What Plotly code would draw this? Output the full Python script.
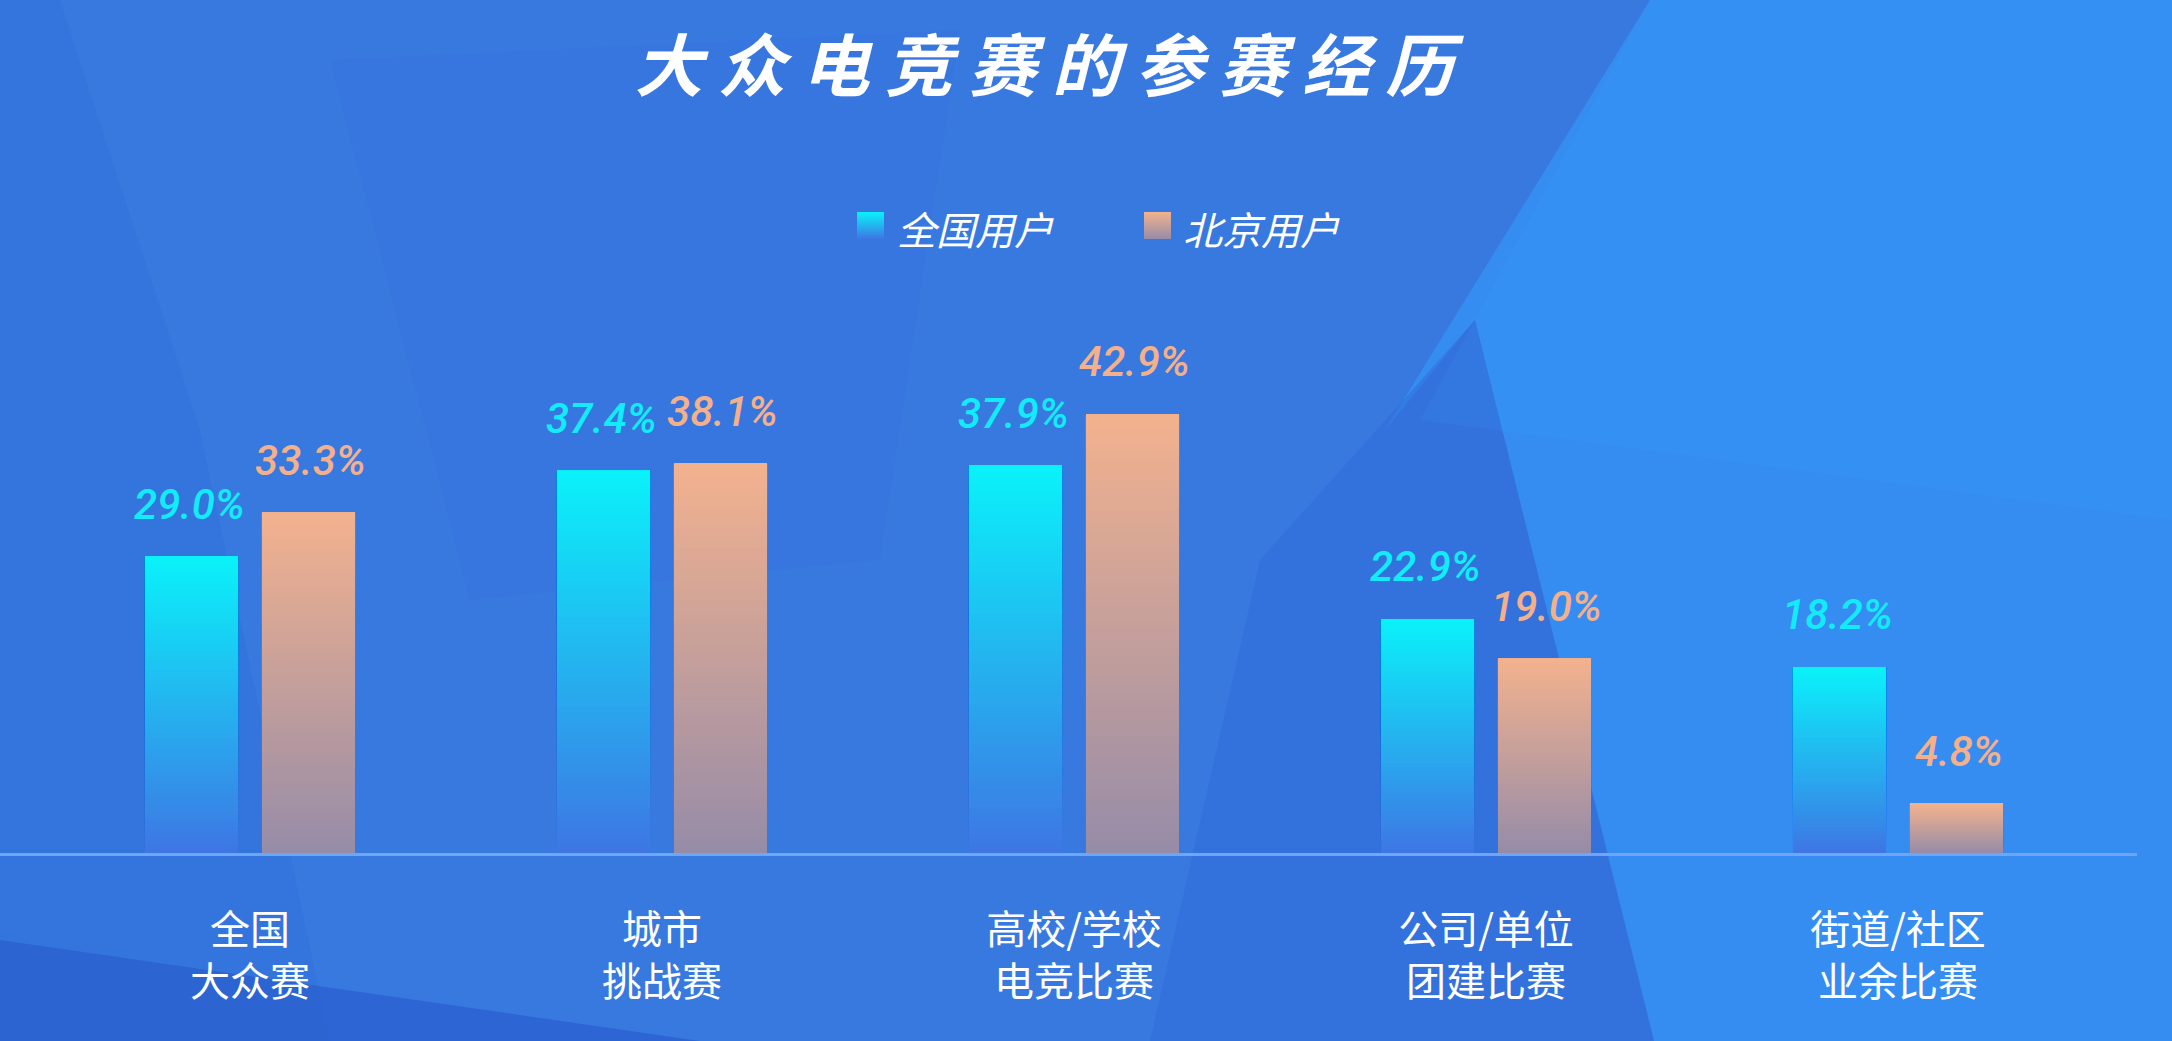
import plotly.graph_objects as go

# ---------------- data ----------------
categories = ["全国大众赛", "城市挑战赛", "高校/学校电竞比赛", "公司/单位团建比赛", "街道/社区业余比赛"]
tick_labels = ["全国<br>大众赛", "城市<br>挑战赛", "高校/学校<br>电竞比赛", "公司/单位<br>团建比赛", "街道/社区<br>业余比赛"]
series_names = ["全国用户", "北京用户"]
national_values = [29.0, 37.4, 37.9, 22.9, 18.2]
beijing_values = [33.3, 38.1, 42.9, 19.0, 4.8]
title_text = "大众电竞赛的参赛经历"

# ---------------- style ----------------
W, H = 2172, 1041
ML, MR, MT, MB = 0, 35, 300, 188
PLOT_W = W - ML - MR
PLOT_H = H - MT - MB
Y_MAX = 54.1
BARGAP, GROUPGAP = 0.432, 0.205

CYAN_TOP, CYAN_BOT = (10, 242, 250), (62, 118, 228)
ORNG_TOP, ORNG_BOT = (243, 178, 142), (150, 140, 168)
LABEL_CYAN = "#12ecfa"
LABEL_ORNG = "#f4b08a"
N_SEG = 60


def mix(c1, c2, t):
    return "rgb(%d,%d,%d)" % tuple(round(a + (b - a) * t) for a, b in zip(c1, c2))


def px(xp, yp):
    """figure pixel position -> paper coordinates (for decorations)"""
    return (xp - ML) / PLOT_W, (H - MB - yp) / PLOT_H


fig = go.Figure()

series = [
    (series_names[0], national_values, CYAN_TOP, CYAN_BOT, "a"),
    (series_names[1], beijing_values, ORNG_TOP, ORNG_BOT, "b"),
]

# gradient bars: each value drawn as overlapping slices (base -> value)
for name, vals, top, bot, grp in series:
    for i in range(N_SEG):
        t = (i + 0.5) / N_SEG
        fig.add_trace(go.Bar(
            x=categories,
            y=[v * (N_SEG - i) / N_SEG for v in vals],
            base=[v * i / N_SEG for v in vals],
            offsetgroup=grp,
            name=name,
            marker=dict(color=mix(bot, top, t), line=dict(width=0)),
            showlegend=False,
            hoverinfo="skip",
        ))

# value labels
annotations = []
slot_px = PLOT_W / len(categories) * (1 - BARGAP) / 2
for k, (vals, col) in enumerate([(national_values, LABEL_CYAN), (beijing_values, LABEL_ORNG)]):
    shift = -slot_px / 2 if k == 0 else slot_px / 2
    for c, v in zip(categories, vals):
        annotations.append(dict(
            x=c, y=v, xref="x", yref="y", text="%.1f%%" % v, showarrow=False,
            xshift=shift, yshift=26, yanchor="bottom", xanchor="center",
            font=dict(family="Roboto", size=42, color=col, style="italic", weight=500),
        ))

# legend (gradient squares + italic labels)
shapes = []
legend_items = [
    (series_names[0], CYAN_TOP, CYAN_BOT, 857, 895),
    (series_names[1], ORNG_TOP, ORNG_BOT, 1144, 1181),
]
SQ = 27
SQ_TOP = 212
for name, top, bot, sx, tx in legend_items:
    for j in range(SQ):
        x0, y0 = px(sx, SQ_TOP + j)
        x1, y1 = px(sx + SQ, SQ_TOP + SQ)
        shapes.append(dict(type="rect", xref="paper", yref="paper",
                           x0=x0, x1=x1, y0=y1, y1=y0,
                           fillcolor=mix(top, bot, (j + 0.5) / SQ),
                           line=dict(width=0), layer="above"))
    lx, ly = px(tx, SQ_TOP + SQ / 2 + 2)
    annotations.append(dict(
        x=lx, y=ly, xref="paper", yref="paper", text=name, showarrow=False,
        xanchor="left", yanchor="middle",
        font=dict(family="Noto Sans CJK SC", size=39, color="white", style="italic"),
    ))


# decorative background facets
def poly(points, color, opacity):
    pts = [px(a, b) for a, b in points]
    path = "M " + " L ".join("%.4f,%.4f" % p for p in pts) + " Z"
    return dict(type="path", path=path, xref="paper", yref="paper",
                fillcolor=color, opacity=opacity, line=dict(width=0), layer="below")


bg = [
    # bright right side
    poly([(1650, 0), (2172, 0), (2172, 1041), (1654, 1041), (1475, 320), (1385, 430)], "#3690f3", 0.85),
    # extra glow in the top-right corner
    poly([(1650, 0), (2172, 0), (2172, 520), (1420, 420)], "#3598f8", 0.3),
    # darker facet in the middle-right
    poly([(1475, 320), (1654, 1041), (1150, 1041), (1260, 560)], "#2f6ad8", 0.45),
    # darker left strip
    poly([(0, 0), (60, 0), (200, 430), (330, 1041), (0, 1041)], "#3170da", 0.45),
    # subtle darker facet upper left
    poly([(330, 60), (960, 30), (880, 560), (470, 600)], "#3472dc", 0.3),
    # darker bottom-left corner
    poly([(0, 940), (700, 1041), (0, 1041)], "#2858cc", 0.6),
]

fig.update_layout(
    width=W, height=H,
    margin=dict(l=ML, r=MR, t=MT, b=MB),
    paper_bgcolor="#3879e0",
    plot_bgcolor="rgba(0,0,0,0)",
    barmode="group",
    bargap=BARGAP,
    bargroupgap=GROUPGAP,
    title=dict(
        text=" ".join(title_text),
        x=1044 / W, xref="container", xanchor="center",
        y=1 - 67 / H, yref="container", yanchor="middle",
        font=dict(family="Noto Sans CJK SC", size=68, color="white", weight="bold", style="italic"),
    ),
    showlegend=False,
    xaxis=dict(
        type="category",
        categoryorder="array", categoryarray=categories,
        range=[-250 / 412, (2137 - 250) / 412],
        tickmode="array", tickvals=categories, ticktext=tick_labels,
        tickfont=dict(family="Noto Sans CJK SC", size=40, color="white"),
        showline=True, linecolor="#6ea6f4", linewidth=3,
        showgrid=False, zeroline=False, ticks="", ticklabelstandoff=40,
    ),
    yaxis=dict(range=[0, Y_MAX], visible=False, showgrid=False, zeroline=False),
    annotations=annotations,
    shapes=bg + shapes,
    font=dict(family="Noto Sans CJK SC"),
)

fig.write_html("out.html")
